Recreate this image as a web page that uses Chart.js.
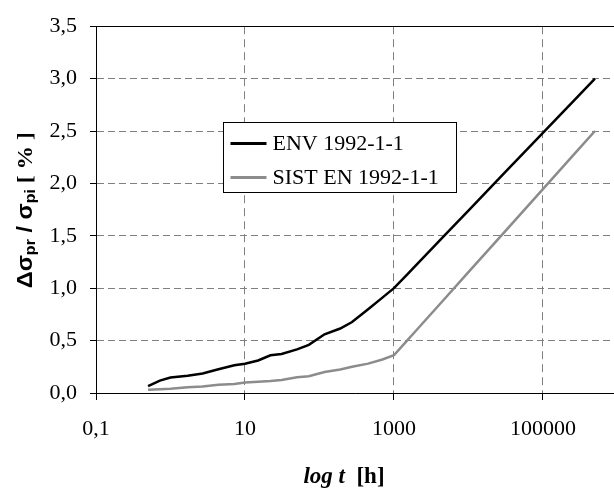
<!DOCTYPE html>
<html>
<head>
<meta charset="utf-8">
<script src="https://cdn.jsdelivr.net/npm/chart.js@4.4.1/dist/chart.umd.min.js"></script>
<style>
    html, body { margin: 0; padding: 0; background: #fff; overflow: hidden; }
</style>
</head>
<body>
<canvas id="myChart" width="614" height="488"></canvas>
<script>
// time in hours (log axis)
const hours = [0.5, 0.72, 1.0, 1.7, 2.7, 4.4, 7.2, 10, 15, 22, 31, 50, 72, 117, 190, 274, 450, 700, 1000, 1500, 2000, 5000, 10000, 30000, 100000, 300000, 500000];
const envValues = [0.065, 0.118, 0.148, 0.165, 0.186, 0.227, 0.264, 0.28, 0.31, 0.36, 0.373, 0.416, 0.46, 0.56, 0.615, 0.677, 0.80, 0.91, 1.0, 1.13, 1.223, 1.518, 1.741, 2.095, 2.482, 2.836, 3.0];
const sistValues = [0.031, 0.035, 0.04, 0.056, 0.062, 0.078, 0.087, 0.10, 0.108, 0.115, 0.124, 0.15, 0.16, 0.2, 0.225, 0.25, 0.28, 0.32, 0.36, 0.50, 0.599, 0.914, 1.153, 1.531, 1.946, 2.324, 2.5];
const seriesNames = ['ENV 1992-1-1', 'SIST EN 1992-1-1'];
const xTicks = [0.1, 10, 1000, 100000];

const serif = '"Liberation Serif", "Times New Roman", serif';
const sans = '"Liberation Sans", Arial, sans-serif';

function toPoints(values) {
    return hours.map(function (h, i) { return {x: h, y: values[i]}; });
}

// solid top edge of the plot
const frameTop = {
    id: 'frameTop',
    afterDraw(chart) {
        const ctx = chart.ctx, a = chart.chartArea;
        ctx.save();
        ctx.strokeStyle = '#000';
        ctx.lineWidth = 1;
        ctx.beginPath();
        ctx.moveTo(a.left, Math.round(a.top) + 0.5);
        ctx.lineTo(a.right, Math.round(a.top) + 0.5);
        ctx.stroke();
        ctx.restore();
    }
};

// boxed legend inside the plot
const boxLegend = {
    id: 'boxLegend',
    afterDatasetsDraw(chart) {
        const ctx = chart.ctx, a = chart.chartArea;
        const x = Math.round(a.left + 127) + 0.5, y = Math.round(a.top + 96) + 0.5;
        const w = 233, h = 70;
        ctx.save();
        ctx.fillStyle = '#fff';
        ctx.fillRect(x, y, w, h);
        ctx.strokeStyle = '#000';
        ctx.lineWidth = 1;
        ctx.strokeRect(x, y, w, h);
        ctx.font = '22px ' + serif;
        ctx.textBaseline = 'middle';
        ctx.fillStyle = '#000';
        chart.data.datasets.forEach(function (ds, i) {
            const cy = y + 21 + i * 34;
            ctx.strokeStyle = ds.borderColor;
            ctx.lineWidth = 3;
            ctx.beginPath();
            ctx.moveTo(x + 7, cy);
            ctx.lineTo(x + 43, cy);
            ctx.stroke();
            ctx.fillText(ds.label, x + 49, cy + 1);
        });
        ctx.restore();
    }
};

// axis titles with mixed styles / subscripts
const axisTitles = {
    id: 'axisTitles',
    afterDraw(chart) {
        const ctx = chart.ctx, a = chart.chartArea;
        ctx.save();
        ctx.fillStyle = '#000';
        ctx.textBaseline = 'alphabetic';

        // x title: "log t  [h]"
        const p1 = 'log t', p2 = '  [h]';
        const f1 = 'italic bold 23px ' + serif, f2 = 'bold 23px ' + serif;
        ctx.font = f1; const w1 = ctx.measureText(p1).width;
        ctx.font = f2; const w2 = ctx.measureText(p2).width;
        let sx = a.left + 248 - (w1 + w2) / 2;
        const by = a.bottom + 90;
        ctx.font = f1; ctx.fillText(p1, sx, by);
        ctx.font = f2; ctx.fillText(p2, sx + w1, by);

        // y title: Δσpr / σpi [ % ]
        const runs = [
            {t: 'Δσ', f: 'bold 22px ' + sans, dy: 0},
            {t: 'pr', f: 'bold 15px ' + sans, dy: 3},
            {t: ' / ', f: 'bold 22px ' + sans, dy: 0},
            {t: 'σ', f: 'bold 22px ' + sans, dy: 0},
            {t: 'pi', f: 'bold 15px ' + sans, dy: 3},
            {t: ' [ % ]', f: 'bold 22px ' + serif, dy: 0}
        ];
        let total = 0;
        runs.forEach(function (r) { ctx.font = r.f; r.w = ctx.measureText(r.t).width; total += r.w; });
        const len = 156;
        ctx.translate(32, a.top + 184);
        ctx.rotate(-Math.PI / 2);
        ctx.scale(len / total, 1);
        let px = -total / 2;
        runs.forEach(function (r) {
            ctx.font = r.f;
            ctx.fillText(r.t, px, r.dy);
            px += r.w;
        });
        ctx.restore();
    }
};

const data = {
    datasets: [{
        label: seriesNames[0],
        data: toPoints(envValues),
        borderColor: '#000000',
        borderWidth: 2.5,
        pointRadius: 0,
        tension: 0
    }, {
        label: seriesNames[1],
        data: toPoints(sistValues),
        borderColor: '#8c8c8c',
        borderWidth: 2.5,
        pointRadius: 0,
        tension: 0
    }]
};

const config = {
    type: 'line',
    data: data,
    options: {
        responsive: false,
        animation: false,
        events: [],
        layout: {padding: {top: 15, right: 0, left: 0, bottom: 0}},
        plugins: {
            legend: {display: false},
            tooltip: {enabled: false}
        },
        scales: {
            x: {
                type: 'logarithmic',
                min: 0.1,
                max: 900000,
                afterBuildTicks: function (scale) {
                    scale.ticks = xTicks.map(function (v) { return {value: v}; });
                },
                afterFit: function (scale) { scale.height = 95; },
                ticks: {
                    autoSkip: false,
                    maxRotation: 0,
                    padding: 16,
                    color: '#000',
                    font: {family: serif, size: 22},
                    callback: function (v) { return String(v).replace('.', ','); }
                },
                grid: {
                    color: '#808080',
                    tickColor: '#000',
                    tickLength: 7,
                    tickBorderDash: []
                },
                border: {color: '#000', width: 1, dash: [8, 5]}
            },
            y: {
                min: 0,
                max: 3.5,
                afterFit: function (scale) { scale.width = 96; },
                ticks: {
                    stepSize: 0.5,
                    padding: 13,
                    color: '#000',
                    font: {family: serif, size: 22},
                    callback: function (v) { return v.toFixed(1).replace('.', ','); }
                },
                grid: {
                    color: '#808080',
                    tickColor: '#000',
                    tickLength: 6,
                    tickBorderDash: []
                },
                border: {color: '#000', width: 1, dash: [7, 4]}
            }
        }
    },
    plugins: [frameTop, boxLegend, axisTitles]
};

const myChart = new Chart(document.getElementById('myChart'), config);
</script>
</body>
</html>
